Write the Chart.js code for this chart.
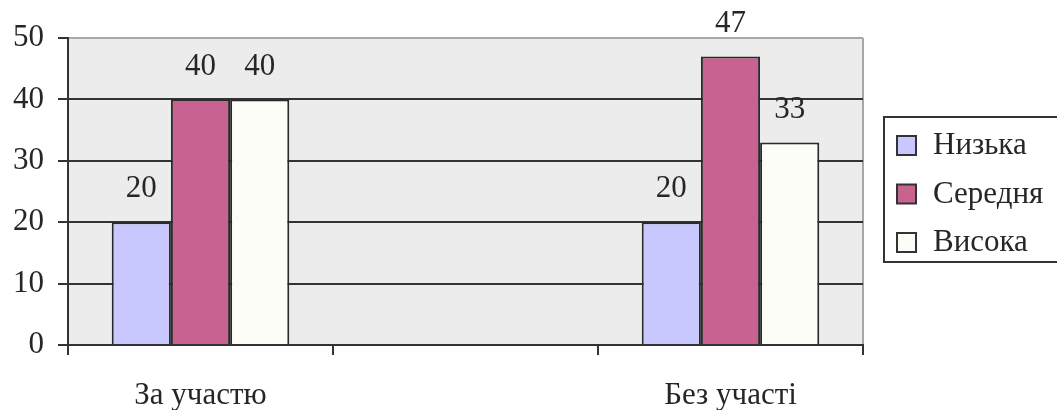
<!DOCTYPE html>
<html>
<head>
<meta charset="utf-8">
<script src="https://cdn.jsdelivr.net/npm/chart.js@4"></script>
<style>
  html, body { margin: 0; padding: 0; background: #fff; }
  canvas { display: block; }
</style>
</head>
<body>
<canvas id="chart" width="1057" height="410"></canvas>
<script>
const categories = ['За участю', '', 'Без участі'];
const seriesNames = ['Низька', 'Середня', 'Висока'];
const lowValues = [20, null, 20];
const midValues = [40, null, 47];
const highValues = [40, null, 33];
const yMax = 50;
const yStep = 10;

const seriesColors = ['#c8c8ff', '#c86291', '#fdfdf7'];
const textColor = '#262626';
const lineColor = '#333333';
const fontSerif = '"Liberation Serif", "Times New Roman", serif';
const fontSize = 31;

// plot background and the light right border
const plotBackground = {
    id: 'plotBackground',
    beforeDraw(chart) {
        const { ctx, chartArea: a } = chart;
        ctx.save();
        ctx.fillStyle = '#ececec';
        ctx.fillRect(a.left, a.top, a.right - a.left, a.bottom - a.top);
        ctx.strokeStyle = '#a8a8a8';
        ctx.lineWidth = 2;
        ctx.beginPath();
        ctx.moveTo(a.right, a.top);
        ctx.lineTo(a.right, a.bottom);
        ctx.stroke();
        ctx.restore();
    }
};

// numbers above each bar
const valueLabels = {
    id: 'valueLabels',
    afterDatasetsDraw(chart) {
        const ctx = chart.ctx;
        ctx.save();
        ctx.font = fontSize + 'px ' + fontSerif;
        ctx.fillStyle = textColor;
        ctx.textAlign = 'center';
        ctx.textBaseline = 'middle';
        chart.data.datasets.forEach((ds, i) => {
            const meta = chart.getDatasetMeta(i);
            meta.data.forEach((bar, j) => {
                const v = ds.data[j];
                if (v === null) return;
                ctx.fillText(String(v), bar.x, bar.y - 33);
            });
        });
        ctx.restore();
    }
};

// boxed legend on the right
const boxLegend = {
    id: 'boxLegend',
    afterDraw(chart) {
        const ctx = chart.ctx;
        const left = 884, top = 117, width = 180, height = 145;
        ctx.save();
        ctx.strokeStyle = lineColor;
        ctx.lineWidth = 2;
        ctx.strokeRect(left, top, width, height);
        ctx.font = fontSize + 'px ' + fontSerif;
        ctx.textBaseline = 'middle';
        ctx.textAlign = 'left';
        chart.data.datasets.forEach((ds, i) => {
            const cy = 145 + i * 48.5;
            ctx.fillStyle = ds.backgroundColor;
            ctx.fillRect(897, cy - 9, 19, 19);
            ctx.lineWidth = 2;
            ctx.strokeRect(897, cy - 9, 19, 19);
            ctx.fillStyle = textColor;
            ctx.fillText(ds.label, 933, cy + 1);
        });
        ctx.restore();
    }
};

const makeDataset = (label, data, color) => ({
    label: label,
    data: data,
    backgroundColor: color,
    borderColor: '#2a2a2a',
    borderWidth: 2,
    categoryPercentage: 0.67,
    barPercentage: 1.0
});

new Chart(document.getElementById('chart').getContext('2d'), {
    type: 'bar',
    data: {
        labels: categories,
        datasets: [
            makeDataset(seriesNames[0], lowValues, seriesColors[0]),
            makeDataset(seriesNames[1], midValues, seriesColors[1]),
            makeDataset(seriesNames[2], highValues, seriesColors[2])
        ]
    },
    options: {
        responsive: false,
        animation: false,
        layout: { padding: { top: 38, right: 194, left: 0, bottom: 0 } },
        plugins: {
            legend: { display: false },
            tooltip: { enabled: false }
        },
        scales: {
            x: {
                afterFit: (s) => { s.height = 65; },
                grid: {
                    drawOnChartArea: false,
                    drawTicks: true,
                    tickLength: 10,
                    tickColor: lineColor,
                    lineWidth: 2
                },
                border: { color: lineColor, width: 2 },
                ticks: {
                    color: textColor,
                    font: { family: fontSerif, size: fontSize },
                    padding: 22,
                    maxRotation: 0
                }
            },
            y: {
                min: 0,
                max: yMax,
                afterFit: (s) => { s.width = 68; },
                grid: {
                    color: (c) => (c.tick && c.tick.value === yMax ? '#a8a8a8' : lineColor),
                    tickColor: lineColor,
                    lineWidth: 2,
                    tickLength: 10
                },
                border: { color: lineColor, width: 2 },
                ticks: {
                    stepSize: yStep,
                    color: textColor,
                    font: { family: fontSerif, size: fontSize },
                    padding: 14
                }
            }
        }
    },
    plugins: [plotBackground, valueLabels, boxLegend]
});
</script>
</body>
</html>
